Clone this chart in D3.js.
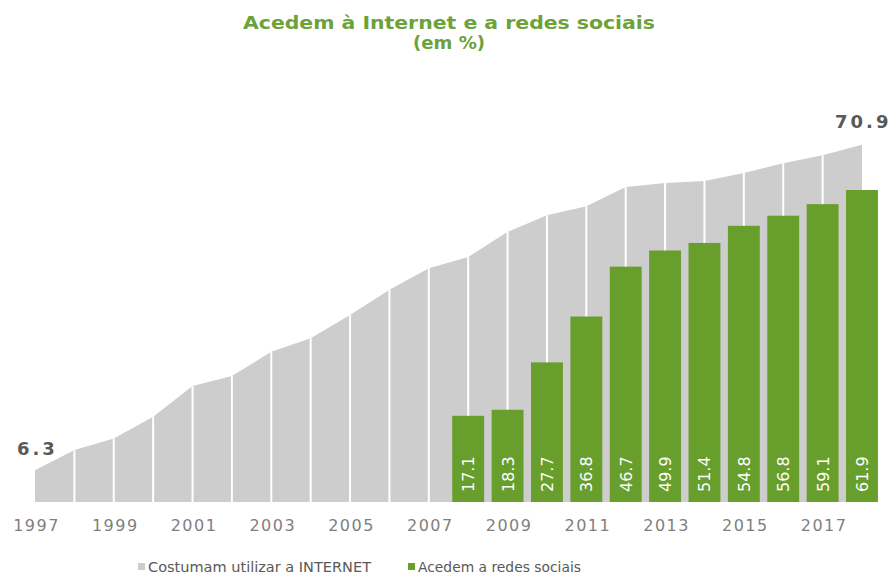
<!DOCTYPE html>
<html>
 <head>
  <meta charset="utf-8">
  <script src="https://cdn.jsdelivr.net/npm/d3@7"></script>
  <style type="text/css">
    body { margin: 0; background: #ffffff; }
    svg { display: block; }
  </style>
 </head>
<body>
  <div id="chart"></div>

  <script type="text/javascript">
    // years on the category axis
    var years = ["1997","1998","1999","2000","2001","2002","2003","2004","2005","2006","2007",
                 "2008","2009","2010","2011","2012","2013","2014","2015","2016","2017","2018"];
    // Costumam utilizar a INTERNET (%)
    var internet = [6.3,10.3,12.6,16.9,23.0,25.0,29.8,32.5,37.1,42.1,46.4,
                    48.6,53.6,56.9,58.7,62.5,63.3,63.7,65.3,67.2,68.8,70.9];
    // Acedem a redes sociais (%), from 2008
    var socialYears = ["2008","2009","2010","2011","2012","2013","2014","2015","2016","2017","2018"];
    var social = [17.1,18.3,27.7,36.8,46.7,49.9,51.4,54.8,56.8,59.1,61.9];
    // labelled ticks
    var tickYears = ["1997","1999","2001","2003","2005","2007","2009","2011","2013","2015","2017"];

    var W = 893, H = 578;
    var svg = d3.select("#chart").append("svg")
      .attr("width", W).attr("height", H);

    var x = d3.scalePoint().domain(years).range([35, 862]);
    var y = d3.scaleLinear().domain([0, 70]).range([502, 149.2]);
    var barW = x.step() * 0.81;

    // title
    svg.append("text")
      .attr("x", 449).attr("y", 29)
      .attr("text-anchor", "middle")
      .attr("textLength", 412).attr("lengthAdjust", "spacingAndGlyphs")
      .style("font-family", "DejaVu Sans").style("font-weight", "bold")
      .style("font-size", "18px").style("fill", "#6ba23a")
      .text("Acedem à Internet e a redes sociais");
    svg.append("text")
      .attr("x", 449).attr("y", 49)
      .attr("text-anchor", "middle")
      .attr("textLength", 72).attr("lengthAdjust", "spacingAndGlyphs")
      .style("font-family", "DejaVu Sans").style("font-weight", "bold")
      .style("font-size", "18px").style("fill", "#6ba23a")
      .text("(em %)");

    // gray area
    var area = d3.area()
      .x(function (d, i) { return x(years[i]); })
      .y0(y(0))
      .y1(function (d) { return y(d); });
    svg.append("path")
      .datum(internet)
      .attr("d", area)
      .style("fill", "#cdcdcd");

    // white separators at each year
    svg.selectAll("line.sep")
      .data(years.slice(1, -1))
      .enter().append("line")
      .attr("class", "sep")
      .attr("x1", function (d) { return x(d); })
      .attr("x2", function (d) { return x(d); })
      .attr("y1", y(0))
      .attr("y2", function (d) { return y(internet[years.indexOf(d)]); })
      .style("stroke", "#ffffff").style("stroke-width", 2);

    // green bars
    svg.selectAll("rect.bar")
      .data(social)
      .enter().append("rect")
      .attr("class", "bar")
      .attr("x", function (d, i) { return x(socialYears[i]) - barW / 2; })
      .attr("y", function (d) { return y(d); })
      .attr("width", barW)
      .attr("height", function (d) { return y(0) - y(d); })
      .style("fill", "#689e2c");

    // rotated value labels inside bars
    svg.selectAll("text.val")
      .data(social)
      .enter().append("text")
      .attr("class", "val")
      .attr("transform", function (d, i) {
        return "translate(" + (x(socialYears[i]) + 6) + "," + (y(0) - 10) + ") rotate(-90)";
      })
      .style("font-family", "DejaVu Sans").style("font-size", "16px")
      .style("fill", "#ffffff")
      .text(function (d) { return d.toFixed(1); });

    // first and last value of the area
    svg.append("text")
      .attr("x", 17).attr("y", 455)
      .style("font-family", "DejaVu Sans").style("font-weight", "bold")
      .style("font-size", "18px").style("letter-spacing", "3px")
      .style("fill", "#595959")
      .text(internet[0].toFixed(1));
    svg.append("text")
      .attr("x", 835).attr("y", 128)
      .style("font-family", "DejaVu Sans").style("font-weight", "bold")
      .style("font-size", "18px").style("letter-spacing", "3px")
      .style("fill", "#595959")
      .text(internet[internet.length - 1].toFixed(1));

    // x axis labels
    var xAxis = d3.axisBottom(x).tickValues(tickYears).tickSize(0).tickPadding(0);
    var gx = svg.append("g")
      .attr("transform", "translate(0," + y(0) + ")")
      .call(xAxis);
    gx.select(".domain").remove();
    gx.selectAll("text")
      .attr("dy", 0).attr("y", 29).attr("dx", 1)
      .style("font-family", "DejaVu Sans").style("font-size", "16px")
      .style("letter-spacing", "1.5px")
      .style("fill", "#7f7f7f");

    // legend
    var legend = [
      { name: "Costumam utilizar a INTERNET", color: "#cdcdcd", x: 138, len: 223 },
      { name: "Acedem a redes sociais", color: "#689e2c", x: 408, len: 163 }
    ];
    var lg = svg.selectAll("g.leg")
      .data(legend)
      .enter().append("g")
      .attr("class", "leg")
      .attr("transform", function (d) { return "translate(" + d.x + ",563)"; });
    lg.append("rect")
      .attr("width", 7).attr("height", 7)
      .style("fill", function (d) { return d.color; });
    lg.append("text")
      .attr("x", 10).attr("y", 9)
      .attr("textLength", function (d) { return d.len; })
      .attr("lengthAdjust", "spacingAndGlyphs")
      .style("font-family", "DejaVu Sans").style("font-size", "14px")
      .style("fill", "#595959")
      .text(function (d) { return d.name; });
  </script>
</body>
</html>
